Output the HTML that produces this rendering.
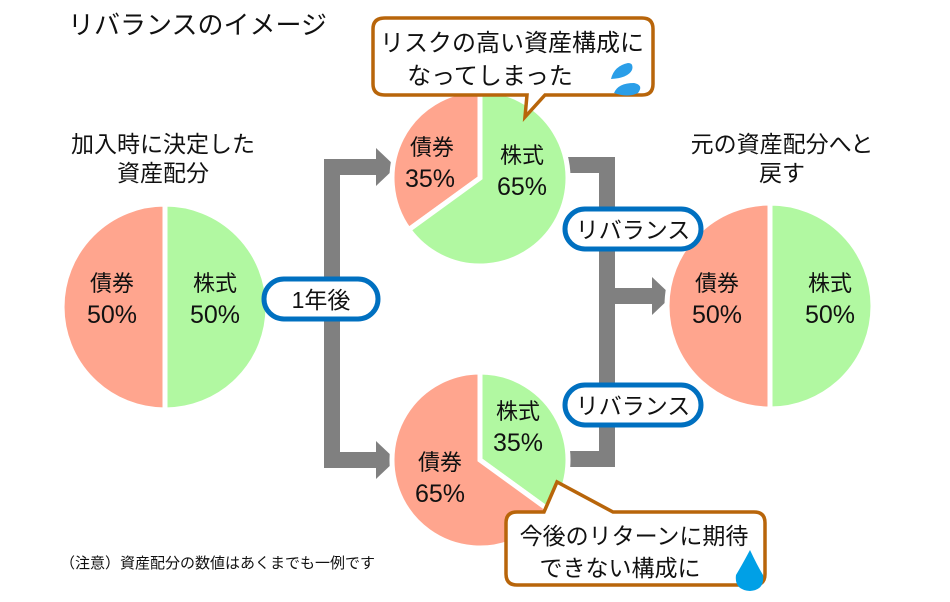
<!DOCTYPE html>
<html><head><meta charset="utf-8"><style>
html,body{margin:0;padding:0;background:#fff;}
svg{display:block;}
text{font-family:"Liberation Sans","Noto Sans CJK JP",sans-serif;fill:#111;}
</style></head><body>
<svg width="950" height="602" viewBox="0 0 950 602" xmlns="http://www.w3.org/2000/svg">
<g fill="#808080">
<rect x="258" y="290" width="20" height="16"/>
<rect x="324" y="159" width="16" height="309"/>
<rect x="324" y="159" width="56" height="16"/>
<polygon points="376,148 396,167 376,186"/>
<rect x="324" y="452" width="56" height="16"/>
<polygon points="376,441 396,460 376,479"/>
<rect x="560" y="157" width="55" height="16"/>
<rect x="599" y="157" width="16" height="310"/>
<rect x="560" y="451" width="55" height="16"/>
<rect x="599" y="288" width="56" height="16"/>
<polygon points="652,277 672,296 652,315"/>
</g>
<g stroke="#fff" stroke-width="5">
<path d="M165,307 L165,204 A103,103 0 0 0 165,410 Z" fill="#ffa58e"/>
<path d="M165,307 L165,204 A103,103 0 0 1 165,410 Z" fill="#b1f8a1"/>
<path d="M480,178 L480,90 A88,88 0 0 0 408.8,229.7 Z" fill="#ffa58e"/>
<path d="M480,178 L480,90 A88,88 0 1 1 408.8,229.7 Z" fill="#b1f8a1"/>
<path d="M480,460 L480,372 A88,88 0 0 1 551.2,511.7 Z" fill="#b1f8a1"/>
<path d="M480,460 L480,372 A88,88 0 1 0 551.2,511.7 Z" fill="#ffa58e"/>
<path d="M770,306 L770,203 A103,103 0 0 0 770,409 Z" fill="#ffa58e"/>
<path d="M770,306 L770,203 A103,103 0 0 1 770,409 Z" fill="#b1f8a1"/>
</g>
<g text-anchor="middle">
<g font-size="22">
<text x="112" y="291">債券</text><text x="215" y="291">株式</text>
<text x="432" y="155">債券</text><text x="522" y="163">株式</text>
<text x="518" y="419">株式</text><text x="440" y="470">債券</text>
<text x="717" y="291">債券</text><text x="830" y="291">株式</text>
</g>
<g font-size="25">
<text x="112" y="323">50%</text><text x="215" y="323">50%</text>
<text x="430" y="187">35%</text><text x="522" y="195">65%</text>
<text x="518" y="451">35%</text><text x="440" y="502">65%</text>
<text x="717" y="323">50%</text><text x="830" y="323">50%</text>
</g>
</g>
<g fill="#fff" stroke="#0070c0" stroke-width="5">
<rect x="264" y="279" width="114" height="40" rx="20"/>
<rect x="565" y="209" width="136" height="40" rx="20"/>
<rect x="565" y="385" width="136" height="40" rx="20"/>
</g>
<g font-size="23" text-anchor="middle">
<text x="321" y="308">1年後</text>
<text x="633" y="238">リバランス</text>
<text x="633" y="414">リバランス</text>
</g>
<path d="M385,18 H642 Q653,18 653,29 V84 Q653,95 642,95 H545 L525,117 L527,95 H385 Q373,95 373,84 V29 Q373,18 385,18 Z" fill="#fff" stroke="#b8650a" stroke-width="3.5"/>
<text x="512" y="51" font-size="24" text-anchor="middle">リスクの高い資産構成に</text>
<text x="490" y="84" font-size="24" text-anchor="middle">なってしまった</text>
<path d="M611,79 Q614,66 628,63 Q634,63 632,70 Q628,78 611,79 Z M614,93 Q618,83 634,83 Q644,85 638,93 Q628,98 614,93 Z" fill="#2a9ee8"/>
<path d="M517,512 H544 L557,482 L613,512 H754 Q765,512 765,523 V574 Q765,585 754,585 H517 Q506,585 506,574 V523 Q506,512 517,512 Z" fill="#fff" stroke="#b8650a" stroke-width="3.5"/>
<text x="634" y="544" font-size="23" text-anchor="middle">今後のリターンに期待</text>
<text x="620" y="576" font-size="23" text-anchor="middle">できない構成に</text>
<path d="M750,550 Q742,565 736,575 Q734,590 750,591 Q765,590 763,575 Q757,565 750,550 Z" fill="#00a0e6"/>
<text x="68" y="34" font-size="26">リバランスのイメージ</text>
<text x="163" y="152" font-size="23" text-anchor="middle">加入時に決定した</text>
<text x="163" y="181" font-size="23" text-anchor="middle">資産配分</text>
<text x="782" y="152" font-size="23" text-anchor="middle">元の資産配分へと</text>
<text x="782" y="181" font-size="23" text-anchor="middle">戻す</text>
<text x="60" y="568" font-size="15">（注意）資産配分の数値はあくまでも一例です</text>
</svg>
</body></html>
